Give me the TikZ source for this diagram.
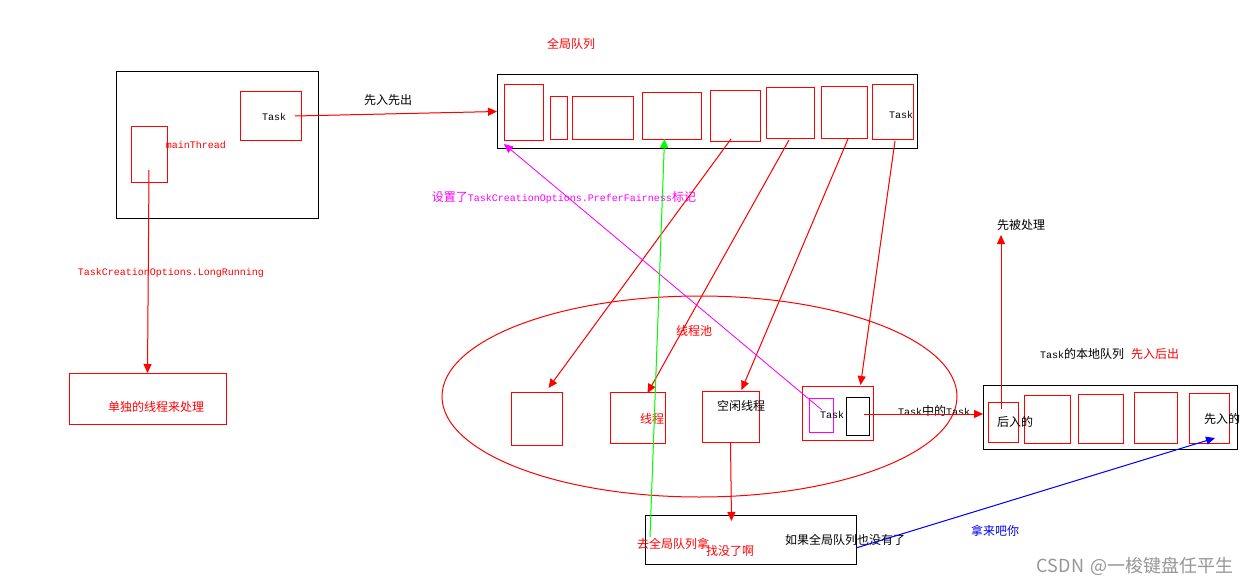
\documentclass[tikz,border=0pt]{standalone}
\usepackage{fontspec}
\setmainfont{Liberation Mono}
\newfontfamily\cjk[Scale=1.2]{Noto Sans CJK SC}
\newfontfamily\wmfont{Noto Sans CJK SC}
\usetikzlibrary{arrows.meta,shapes.geometric}
\definecolor{pred}{RGB}{255,0,0}
\definecolor{pmag}{RGB}{255,0,255}
\definecolor{pgreen}{RGB}{0,255,0}
\definecolor{pblue}{RGB}{0,0,255}
\begin{document}
\begin{tikzpicture}[x=1pt,y=-1pt,
  every node/.style={inner sep=0pt,outer sep=0pt},
  bbox/.style={draw=black,line width=1pt},
  rbox/.style={draw=pred,line width=1pt},
  mbox/.style={draw=pmag,line width=1pt},
  sz/.style n args={2}{minimum width=#1pt,minimum height=#2pt},
  lbl/.style={font=\fontsize{10}{12}\selectfont,text=black},
  rlbl/.style={lbl,text=pred},
  arr/.style={line width=1pt,-{Triangle[length=9pt,width=8pt]}},
  rarr/.style={arr,draw=pred,fill=pred},
]
\useasboundingbox[fill=white] (0,0) rectangle (1254,586);

% thread pool ellipse
\node[ellipse,draw=pred,line width=1pt,sz={515}{201}] (pool) at (699.5,396.5) {};

% main thread area
\node[bbox,sz={202}{146}] (main) at (217,145) {};
\node[rbox,sz={61}{48}] (task1) at (270.5,116) {};
\node[rbox,sz={36}{56}] (mt) at (149,154) {};
\node[rbox,sz={157}{51}] (lr) at (147.5,398.5) {};

% global queue
\node[bbox,sz={420}{73}] (gq) at (707,111.5) {};
\node[rbox,sz={39}{55}] (g1) at (523.5,112.5) {};
\node[rbox,sz={17}{42}] (g2) at (558.5,118) {};
\node[rbox,sz={61}{42}] (g3) at (602.5,118) {};
\node[rbox,sz={59}{46}] (g4) at (671.5,116) {};
\node[rbox,sz={50}{50}] (g5) at (735,116) {};
\node[rbox,sz={48}{50}] (g6) at (790,113) {};
\node[rbox,sz={46}{51}] (g7) at (844,112.5) {};
\node[rbox,sz={41}{54}] (g8) at (892.5,112) {};

% threads
\node[rbox,sz={51}{53}] (t1) at (536.5,418.5) {};
\node[rbox,sz={55}{51}] (t2) at (637.5,417.5) {};
\node[rbox,sz={57}{51}] (t3) at (730.5,416.5) {};
\node[rbox,sz={71}{54}] (t4) at (837.5,413) {};
\node[mbox,sz={24}{34}] (mag) at (821,415) {};
\node[bbox,sz={23}{38}] (blk) at (857.5,416) {};

% bottom box
\node[bbox,sz={211}{49}] (bot) at (750.5,539.5) {};

% local queue
\node[bbox,sz={254}{64}] (lq) at (1110,417) {};
\node[rbox,sz={30}{40}] (l1) at (1003,422) {};
\node[rbox,sz={46}{48}] (l2) at (1047,419) {};
\node[rbox,sz={45}{49}] (l3) at (1100.5,418.5) {};
\node[rbox,sz={43}{51}] (l4) at (1155.5,417.5) {};
\node[rbox,sz={40}{50}] (l5) at (1209,418) {};

% texts
\node[lbl] (tTask1) at (274,117) {Task};
\node[rlbl] (tMain) at (196,145) {mainThread};
\node[lbl] (tFifo) at (388,100) {{\cjk 先入先出}};
\node[rlbl] (tGq) at (571,44) {{\cjk 全局队列}};
\node[lbl] (tTask8) at (901,115) {Task};
\node[lbl,text=pmag] (tPref) at (564,197) {{\cjk 设置了}TaskCreationOptions.PreferFairness{\cjk 标记}};
\node[rlbl] (tLong) at (171,273) {TaskCreationOptions.LongRunning};
\node[rlbl] (tAlone) at (156,407) {{\cjk 单独的线程来处理}};
\node[rlbl] (tPool) at (694,331) {{\cjk 线程池}};
\node[rlbl] (tThr) at (652,419) {{\cjk 线程}};
\node[lbl] (tIdle) at (741,406) {{\cjk 空闲线程}};
\node[lbl] (tTask4) at (832,415) {Task};
\node[lbl] (tInner) at (934,411) {Task{\cjk 中的}Task};
\node[lbl] (tFirst) at (1021,225) {{\cjk 先被处理}};
\node[lbl] (tLocal) at (1082,354) {Task{\cjk 的本地队列}};
\node[rlbl] (tLifo) at (1155,354) {{\cjk 先入后出}};
\node[lbl] (tLast) at (1015,422) {{\cjk 后入的}};
\node[lbl] (tEarly) at (1222,419) {{\cjk 先入的}};
\node[rlbl] (tGo) at (673,544) {{\cjk 去全局队列拿}};
\node[rlbl] (tNone) at (730,551) {{\cjk 找没了啊}};
\node[lbl] (tIf) at (845,540) {{\cjk 如果全局队列也没有了}};
\node[lbl,text=pblue] (tTake) at (995,531) {{\cjk 拿来吧你}};
\node[text={rgb,255:red,150;green,150;blue,150},font=\wmfont\fontsize{18}{21}\selectfont] (wm) at (1135,566) {CSDN\hspace{2pt} @一梭键盘任平生};

\coordinate (up) at (1001,235);

% connectors
\draw[rarr] ([xshift=-6pt]task1.east) -- (gq.west);
\draw[rarr] ([yshift=12pt]mt.south) -- (lr.north);
\draw[rarr] ([xshift=-4pt,yshift=2pt]g5.south) -- ([xshift=12pt,yshift=4pt]t1.north);
\draw[rarr] ([xshift=-1pt,yshift=-2pt]g6.south) -- ([xshift=10pt,yshift=-1pt]t2.north);
\draw[rarr] ([xshift=4pt,yshift=-1pt]g7.south) -- ([xshift=11pt,yshift=1pt]t3.north);
\draw[rarr] ([xshift=2.5pt,yshift=-2pt]g8.south) -- ([xshift=23pt,yshift=1pt]t4.north);
\draw[arr,draw=pmag,fill=pmag,line width=0.8pt] ([xshift=1pt,yshift=5pt]mag.center) -- ([yshift=-4pt]g1.south west);
\draw[arr,draw=pgreen,fill=pgreen] ([xshift=5pt,yshift=2.5pt]bot.west) -- ([xshift=-7pt]g4.south);
\draw[rarr] (t3.south) -- ([xshift=-19pt,yshift=-6pt]bot.north);
\draw[rarr] ([xshift=6.5pt,yshift=2pt]blk.center) -- ([yshift=3pt]lq.west);
\draw[rarr] ([xshift=-2pt,yshift=13pt]l1.center) -- (up);
\draw[arr,draw=pblue,fill=pblue] ([yshift=-8.5pt]bot.east) -- ([xshift=6pt,yshift=5pt]l5.south);
\end{tikzpicture}
\end{document}
